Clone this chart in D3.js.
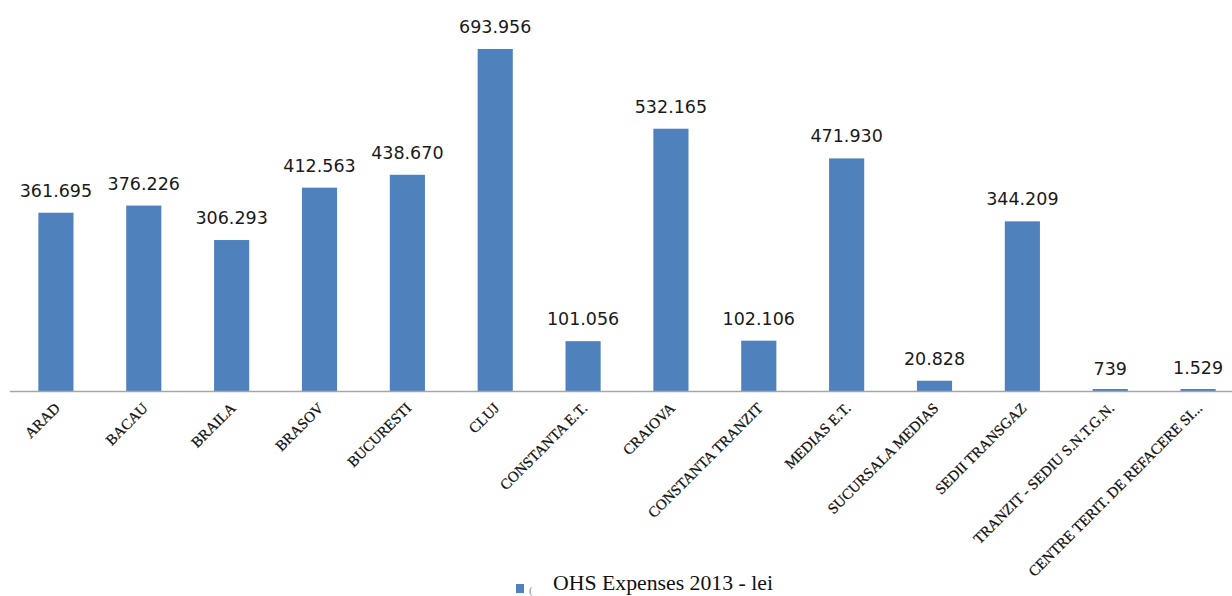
<!DOCTYPE html>
<html>
<head>
<meta charset="utf-8">
<script src="https://cdn.jsdelivr.net/npm/d3@7"></script>
<style>
  html, body { margin: 0; padding: 0; background: #fff; }
  svg { display: block; }
</style>
</head>
<body>
<svg id="chart" width="1232" height="596"></svg>
<script>
const categories = ["ARAD", "BACAU", "BRAILA", "BRASOV", "BUCURESTI", "CLUJ", "CONSTANTA E.T.", "CRAIOVA", "CONSTANTA TRANZIT", "MEDIAS E.T.", "SUCURSALA MEDIAS", "SEDII TRANSGAZ", "TRANZIT - SEDIU S.N.T.G.N.", "CENTRE TERIT. DE REFACERE SI..."];
const values = [361695, 376226, 306293, 412563, 438670, 693956, 101056, 532165, 102106, 471930, 20828, 344209, 739, 1529];
const valueLabels = ["361.695", "376.226", "306.293", "412.563", "438.670", "693.956", "101.056", "532.165", "102.106", "471.930", "20.828", "344.209", "739", "1.529"];
const seriesName = "OHS Expenses 2013 - lei";

const svg = d3.select("#chart");
const barColor = "#4F81BD";

const x = d3.scaleBand().domain(categories).range([12, 1242]).paddingInner(0.6).paddingOuter(0.3);
const y = d3.scaleLinear().domain([0, 800000]).range([391, -3.3]);

const data = categories.map((c, i) => ({ c, v: values[i], l: valueLabels[i] }));

svg.selectAll("rect.bar").data(data).enter().append("rect")
  .attr("class", "bar")
  .attr("x", d => x(d.c))
  .attr("width", x.bandwidth())
  .attr("y", d => Math.min(y(d.v), y(0) - 2))
  .attr("height", d => Math.max(y(0) - y(d.v), 2))
  .attr("fill", barColor);

// x axis
const xAxis = d3.axisBottom(x).tickSize(0).tickPadding(0);
const gx = svg.append("g").attr("transform", `translate(0,${y(0)})`).call(xAxis);
gx.select(".domain").attr("d", "M10,0.5H1232").attr("stroke", "#A6A6A6").attr("stroke-width", 1.3);
gx.selectAll(".tick text")
  .attr("font-family", "'Liberation Serif', serif")
  .attr("font-size", 15)
  .attr("fill", "#111")
  .attr("stroke", "#111")
  .attr("stroke-width", 0.25)
  .attr("text-anchor", "end")
  .attr("dy", 0)
  .attr("y", 0)
  .attr("transform", "translate(5,18) rotate(-45)");

// value labels
svg.selectAll("text.val").data(data).enter().append("text")
  .attr("class", "val")
  .attr("x", d => x(d.c) + x.bandwidth() / 2)
  .attr("y", d => y(d.v) - 16)
  .attr("text-anchor", "middle")
  .attr("font-family", "'DejaVu Sans', sans-serif")
  .attr("font-size", 17.5)
  .attr("fill", "#1a1a1a")
  .text(d => d.l);

// legend
const lg = svg.append("g");
lg.append("rect").attr("x", 516).attr("y", 584).attr("width", 8).attr("height", 9).attr("fill", barColor);
lg.append("text").attr("x", 529).attr("y", 594).attr("font-family", "'Liberation Serif', serif")
  .attr("font-size", 11).attr("fill", "#888").text("(");
lg.append("text").attr("x", 553).attr("y", 590)
  .attr("font-family", "'Liberation Serif', serif")
  .attr("font-size", 22).attr("fill", "#111")
  .attr("textLength", 220).attr("lengthAdjust", "spacingAndGlyphs")
  .text(seriesName);
</script>
</body>
</html>
